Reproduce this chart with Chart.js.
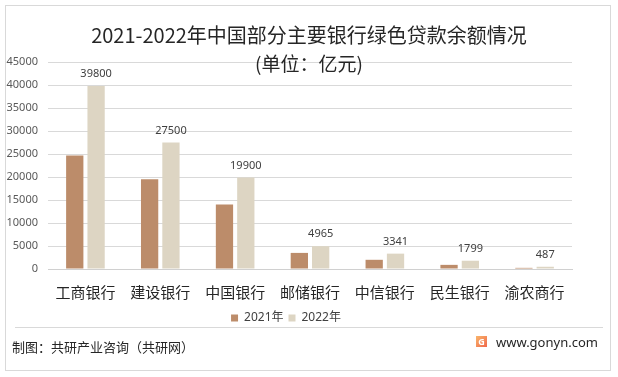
<!DOCTYPE html>
<html>
<head>
<meta charset="utf-8">
<script src="https://cdn.jsdelivr.net/npm/chart.js@4/dist/chart.umd.min.js"></script>
<style>
body{margin:0;background:#fff;font-family:"Noto Sans","Noto Sans CJK SC",sans-serif;}
#wrap{position:relative;width:618px;height:377px;overflow:hidden;}
#frame{position:absolute;left:5px;top:5px;width:604px;height:364px;border:1px solid #d9d9d9;}
#cv{position:absolute;left:0;top:0;}
.t{position:absolute;left:0;width:618px;text-align:center;color:#262626;font-family:"Noto Sans CJK SC",sans-serif;}
#sep{position:absolute;left:15px;top:327px;width:588px;height:1px;background:#d9d9d9;}
#src{position:absolute;left:12px;top:337px;font-size:13px;color:#262626;font-family:"Noto Sans CJK SC",sans-serif;}
#web{position:absolute;left:496px;top:333px;font-size:13px;color:#262626;}
#logo{position:absolute;left:476px;top:336px;width:11px;height:11px;background:linear-gradient(135deg,#f9b66b,#f0674a);color:#fff;font-size:9px;line-height:11px;text-align:center;font-weight:bold;}
</style>
</head>
<body>
<div id="wrap">
<div id="frame"></div>
<canvas id="cv" width="618" height="338"></canvas>
<div class="t" style="top:20px;font-size:20px;">2021-2022年中国部分主要银行绿色贷款余额情况</div>
<div class="t" style="top:49px;font-size:19px;">(单位：亿元)</div>
<div id="sep"></div>
<div id="src">制图：共研产业咨询（共研网）</div>
<div id="logo">G</div>
<div id="web">www.gonyn.com</div>
</div>
<script>
const banks=["工商银行","建设银行","中国银行","邮储银行","中信银行","民生银行","渝农商行"];
const y2021=[24700,19500,14000,3500,2000,900,250];
const y2022=[39800,27500,19900,4965,3341,1799,487];
const seriesNames=["2021年","2022年"];
const c2021="#bc8c6a";
const c2022="#ddd5c3";

const valueLabels={
  id:"valueLabels",
  afterDatasetsDraw(chart){
    const ctx=chart.ctx;
    const meta=chart.getDatasetMeta(1);
    ctx.save();
    ctx.font="11px 'Noto Sans', sans-serif";
    ctx.fillStyle="#404040";
    ctx.textAlign="center";
    ctx.textBaseline="middle";
    meta.data.forEach((bar,i)=>{
      ctx.fillText(String(y2022[i]),bar.x,bar.y-12);
    });
    ctx.restore();
  }
};

const ctx=document.getElementById("cv");
new Chart(ctx,{
  type:"bar",
  data:{
    labels:banks,
    datasets:[
      {label:seriesNames[0],data:y2021,backgroundColor:c2021,categoryPercentage:0.57,barPercentage:0.81},
      {label:seriesNames[1],data:y2022,backgroundColor:c2022,categoryPercentage:0.57,barPercentage:0.81}
    ]
  },
  options:{
    responsive:false,
    animation:false,
    layout:{padding:{top:62,right:46,left:0,bottom:4}},
    plugins:{
      legend:{
        position:"bottom",
        labels:{boxWidth:7,boxHeight:7,font:{size:12,family:"'Noto Sans','Noto Sans CJK SC'"},color:"#404040",padding:5}
      },
      tooltip:{enabled:false}
    },
    scales:{
      x:{
        grid:{display:false},
        border:{color:"#d0d0d0"},
        ticks:{font:{size:15,family:"'Noto Sans CJK SC'"},color:"#262626",padding:6}
      },
      y:{
        min:0,max:45000,
        ticks:{stepSize:5000,font:{size:11,family:"'Noto Sans'"},color:"#595959",padding:10,callback:v=>String(v)},
        grid:{color:"#d9d9d9",drawTicks:false},
        border:{display:false},
        afterFit(s){s.width=48;}
      }
    }
  },
  plugins:[valueLabels]
});
</script>
</body>
</html>
